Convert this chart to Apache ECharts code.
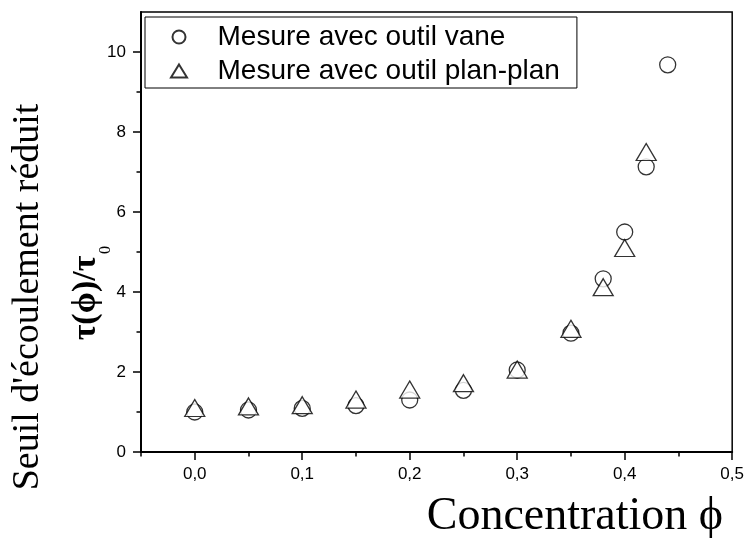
<!DOCTYPE html>
<html>
<head>
<meta charset="utf-8">
<script src="https://cdn.jsdelivr.net/npm/echarts@6/dist/echarts.min.js"></script>
<style>
  html, body { margin: 0; padding: 0; background: #fff; }
  #chart { width: 747px; height: 538px; }
</style>
</head>
<body>
<div id="chart"></div>
<script>
// Reduced yield stress tau(phi)/tau0 versus volume concentration phi
const concentrationVane = [0, 0.05, 0.1, 0.15, 0.2, 0.25, 0.3, 0.35, 0.38, 0.4, 0.42, 0.44];
const seuilVane = [1.0, 1.05, 1.09, 1.16, 1.3, 1.54, 2.05, 2.97, 4.33, 5.5, 7.13, 9.68];
const concentrationPlan = [0, 0.05, 0.1, 0.15, 0.2, 0.25, 0.3, 0.35, 0.38, 0.4, 0.42];
const seuilPlan = [1.1, 1.14, 1.17, 1.31, 1.56, 1.72, 2.06, 3.08, 4.12, 5.1, 7.5];

const seriesNames = ['Mesure avec outil vane', 'Mesure avec outil plan-plan'];
const xMajorTicks = [0, 0.1, 0.2, 0.3, 0.4, 0.5];
const xMinorTicks = [-0.05, 0.05, 0.15, 0.25, 0.35, 0.45];
const yMajorTicks = [0, 2, 4, 6, 8, 10];
const yMinorTicks = [1, 3, 5, 7, 9];

const SANS = '"Liberation Sans", Arial, sans-serif';
const SERIF = '"Liberation Serif", "Times New Roman", serif';

const markerStyle = { color: '#fff', borderColor: '#000', borderWidth: 1.3 };

const chart = echarts.init(document.getElementById('chart'), null, { renderer: 'canvas' });

function xAxisBase() {
  return {
    type: 'value', gridIndex: 0, position: 'bottom',
    min: -0.05, max: 0.5, interval: 0.05,
    splitLine: { show: false }
  };
}
function yAxisBase() {
  return {
    type: 'value', gridIndex: 0, position: 'left',
    min: 0, max: 11, interval: 1,
    splitLine: { show: false }
  };
}

chart.setOption({
  animation: false,
  backgroundColor: '#fff',
  grid: {
    left: 141, right: 12, top: 12, bottom: 86,
    show: true, borderColor: '#000', borderWidth: 1.5,
    backgroundColor: 'transparent'
  },
  legend: {
    left: 145, top: 17, orient: 'vertical',
    padding: [4, 17, 1, 25],
    itemWidth: 67, itemHeight: 13, itemGap: 2,
    borderColor: '#000', borderWidth: 1,
    selectedMode: false,
    textStyle: { fontFamily: SANS, fontSize: 28, color: '#000', lineHeight: 32 },
    data: [
      { name: seriesNames[0], icon: 'circle' },
      { name: seriesNames[1], icon: 'path://M8,0 L16,13 L0,13 Z' }
    ]
  },
  xAxis: [
    Object.assign(xAxisBase(), {
      axisLine: { show: true, onZero: false, lineStyle: { color: '#000', width: 2 } },
      axisTick: { show: true, customValues: xMajorTicks, length: 8, lineStyle: { color: '#000', width: 1.5 } },
      axisLabel: {
        show: true, customValues: xMajorTicks, margin: 14,
        fontFamily: SANS, fontSize: 17, color: '#000',
        formatter: v => v.toFixed(1).replace('.', ',')
      }
    }),
    Object.assign(xAxisBase(), {
      axisLine: { show: false, onZero: false },
      axisTick: { show: true, customValues: xMinorTicks, length: 4.5, lineStyle: { color: '#000', width: 1.5 } },
      axisLabel: { show: false }
    })
  ],
  yAxis: [
    Object.assign(yAxisBase(), {
      axisLine: { show: true, onZero: false, lineStyle: { color: '#000', width: 2 } },
      axisTick: { show: true, customValues: yMajorTicks, length: 8, lineStyle: { color: '#000', width: 1.5 } },
      axisLabel: {
        show: true, customValues: yMajorTicks, margin: 15,
        fontFamily: SANS, fontSize: 17, color: '#000',
        formatter: v => String(v)
      }
    }),
    Object.assign(yAxisBase(), {
      axisLine: { show: false, onZero: false },
      axisTick: { show: true, customValues: yMinorTicks, length: 4.5, lineStyle: { color: '#000', width: 1.5 } },
      axisLabel: { show: false }
    })
  ],
  series: [
    {
      type: 'scatter', name: seriesNames[0],
      xAxisIndex: 0, yAxisIndex: 0, z: 2,
      symbol: 'circle', symbolSize: 16,
      itemStyle: markerStyle,
      emphasis: { disabled: true },
      data: concentrationVane.map((x, i) => [x, seuilVane[i]])
    },
    {
      type: 'scatter', name: seriesNames[1],
      xAxisIndex: 0, yAxisIndex: 0, z: 3,
      symbol: 'triangle', symbolSize: [20, 17],
      itemStyle: markerStyle,
      emphasis: { disabled: true },
      data: concentrationPlan.map((x, i) => [x, seuilPlan[i]])
    }
  ],
  graphic: [
    {
      type: 'text', x: 28, y: 297, rotation: Math.PI / 2, silent: true,
      style: {
        text: "Seuil d'écoulement réduit", fill: '#000',
        font: '38px ' + SERIF, align: 'center', verticalAlign: 'middle'
      }
    },
    {
      type: 'text', x: 86, y: 298, rotation: Math.PI / 2, silent: true,
      style: {
        text: 'τ(ϕ)/τ', fill: '#000',
        font: 'bold 34px ' + SERIF, align: 'center', verticalAlign: 'middle'
      }
    },
    {
      type: 'text', x: 106, y: 250, rotation: Math.PI / 2, silent: true,
      style: {
        text: '0', fill: '#000',
        font: '16px ' + SERIF, align: 'center', verticalAlign: 'middle'
      }
    },
    {
      type: 'text', x: 723, y: 517, silent: true,
      style: {
        text: 'Concentration ϕ', fill: '#000',
        font: '46px ' + SERIF, align: 'right', verticalAlign: 'middle'
      }
    }
  ]
});
</script>
</body>
</html>
